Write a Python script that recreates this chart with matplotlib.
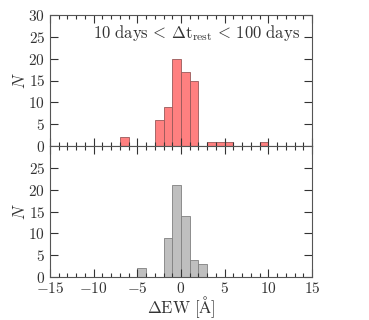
import matplotlib
matplotlib.use("Agg")
import matplotlib.pyplot as plt
import numpy as np
from matplotlib.ticker import MultipleLocator

plt.rcParams['font.family'] = 'serif'
plt.rcParams['font.serif'] = ['cmr10', 'DejaVu Serif']
plt.rcParams['mathtext.fontset'] = 'cm'
plt.rcParams['axes.formatter.use_mathtext'] = True
plt.rcParams['axes.unicode_minus'] = True

# Data: left bin edges (width 1 Å) and counts
top_bins = [-7, -3, -2, -1, 0, 1, 3, 4, 5, 9]
top_counts = [2, 6, 9, 20, 17, 15, 1, 1, 1, 1]
bot_bins = [-5, -2, -1, 0, 1, 2]
bot_counts = [2, 9, 21, 14, 4, 3]
bin_width = 1.0

fig = plt.figure(figsize=(3.69, 3.2), dpi=100)
L, R = 50/369, 312/369
top_y, mid_y, bot_y = 1-15/320, 1-146/320, 1-277/320
ax1 = fig.add_axes([L, mid_y, R-L, top_y-mid_y])
ax2 = fig.add_axes([L, bot_y, R-L, mid_y-bot_y], sharex=ax1)

tc = '#333333'
for ax in (ax1, ax2):
    ax.set_xlim(-15, 15)
    ax.set_ylim(0, 30)
    ax.xaxis.set_major_locator(MultipleLocator(5))
    ax.xaxis.set_minor_locator(MultipleLocator(1))
    ax.yaxis.set_major_locator(MultipleLocator(5))
    ax.tick_params(which='both', direction='in', top=True, right=True,
                   labelsize=11, colors=tc, width=0.8)
    ax.tick_params(which='major', length=6)
    ax.tick_params(which='minor', length=3)
    for s in ax.spines.values():
        s.set_color('#555555')
        s.set_linewidth(0.8)
    ax.set_ylabel(r'$N$', fontsize=12, color=tc, labelpad=0)

ax1.bar(top_bins, top_counts, width=bin_width, align='edge',
        color=(1, 0.5, 0.5), edgecolor=(0.6, 0.35, 0.35), linewidth=0.6)
ax2.bar(bot_bins, bot_counts, width=bin_width, align='edge',
        color=(0.75, 0.75, 0.75), edgecolor=(0.5, 0.5, 0.5), linewidth=0.6)

ax1.tick_params(labelbottom=False)
ax1.set_yticks([0, 5, 10, 15, 20, 25, 30])
ax2.set_yticks([0, 5, 10, 15, 20, 25])
ax2.set_xticks([-15, -10, -5, 0, 5, 10, 15])
ax2.tick_params(axis='x', pad=3)
ax2.set_xlabel(r'$\Delta\mathrm{EW}\ [\mathrm{\AA}]$', fontsize=12, color=tc, labelpad=-1)

ax1.text(0.955, 0.86,
         r'$\mathrm{10\ days}\,<\,\Delta\mathrm{t}_\mathrm{rest}\,<\,\mathrm{100\ days}$',
         transform=ax1.transAxes, ha='right', va='center', fontsize=12, color=tc)

fig.savefig('out.png', dpi=100)
